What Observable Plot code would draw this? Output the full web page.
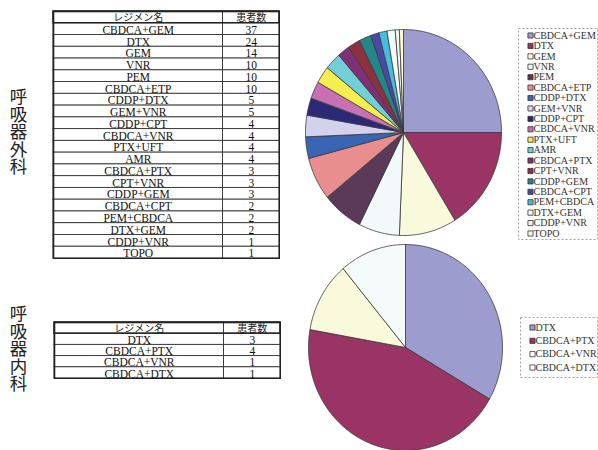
<!DOCTYPE html>
<html><head><meta charset="utf-8">
<script src="https://cdn.jsdelivr.net/npm/d3@7"></script>
<script src="https://cdn.jsdelivr.net/npm/@observablehq/plot@0.6"></script>
<style>
body{margin:0;background:#fff;}
#root{position:relative;width:598px;height:450px;overflow:hidden;background:#fff;}
#root > div{position:absolute;}
.vlabel{writing-mode:vertical-rl;font-family:"Noto Sans CJK JP";font-size:17.5px;line-height:18px;color:#222;}
</style></head><body><div id="root"></div>
<script>
// ---- data ----
const headers = ["レジメン名", "患者数"];
const sectionLabels = ["呼吸器外科", "呼吸器内科"];

const surgRegimens = ["CBDCA+GEM","DTX","GEM","VNR","PEM","CBDCA+ETP","CDDP+DTX","GEM+VNR","CDDP+CPT","CBDCA+VNR","PTX+UFT","AMR","CBDCA+PTX","CPT+VNR","CDDP+GEM","CBDCA+CPT","PEM+CBDCA","DTX+GEM","CDDP+VNR","TOPO"];
const surgCounts = [37,24,14,10,10,10,5,5,4,4,4,4,3,3,3,2,2,2,1,1];
const surgColors = ["#9c9cce","#993464","#f9f9dc","#f1f9fa","#5a3a58","#e88e8e","#3a64b4","#d2d2ec","#2c2a76","#c870b4","#f6ee4e","#72cfd6","#7e3078","#8e3040","#248686","#4a4aa6","#44bede","#f4fafa","#f0f9f0","#fafad2"];

const medRegimens = ["DTX","CBDCA+PTX","CBDCA+VNR","CBDCA+DTX"];
const medCounts = [3,4,1,1];
const medColors = ["#9c9cce","#993464","#f9f9dc","#f5fafa"];
const medLegendColors = ["#9c9cce","#993464","#ffffff","#ffffff"];

// ---- helpers ----
const root = document.getElementById("root");
function place(node, left, top) {
  const div = document.createElement("div");
  div.style.left = left + "px";
  div.style.top = top + "px";
  div.appendChild(node);
  root.appendChild(div);
}

function table(names, counts, left, top, width, height) {
  const rows = [{i: 0, name: headers[0], count: headers[1]}]
    .concat(names.map((n, k) => ({i: k + 1, name: n, count: String(counts[k])})));
  const split = 0.75;
  const body = rows.slice(1), head = rows.slice(0, 1);
  const txt = {fontFamily: "Liberation Serif, DejaVu Serif, serif", fontSize: 11.5, fill: "#111", dy: 1};
  const jp = {fontFamily: "Noto Sans CJK JP", fontSize: 10, fill: "#222", dy: 0.5};
  const cellStyle = {fill: "white", stroke: "#333", strokeWidth: 0.9};
  const p = Plot.plot({
    width, height, margin: 1,
    x: {domain: [0, 1], axis: null},
    y: {type: "band", domain: rows.map(d => d.i), padding: 0, round: false, axis: null},
    marks: [
      Plot.barX(rows, {x1: 0, x2: split, y: "i", ...cellStyle}),
      Plot.barX(rows, {x1: split, x2: 1, y: "i", ...cellStyle}),
      Plot.barX(head, {x1: 0, x2: 1, y: "i", fill: "none", stroke: "#222", strokeWidth: 1.4}),
      Plot.text(body, {x: split / 2, y: "i", text: "name", ...txt}),
      Plot.text(body, {x: (1 + split) / 2, y: "i", text: "count", ...txt}),
      Plot.text(head, {x: split / 2, y: "i", text: "name", ...jp}),
      Plot.text(head, {x: (1 + split) / 2, y: "i", text: "count", ...jp}),
      Plot.frame({stroke: "#222", strokeWidth: 1.6})
    ]
  });
  place(p, left, top);
}

function pie(names, counts, colors, cx, cy, rx, ry) {
  const arcs = d3.pie().sort(null).value(d => d)(counts);
  const pts = [];
  arcs.forEach((a, k) => {
    const key = k;
    pts.push({key, x: 0, y: 0, c: colors[k]});
    const n = Math.max(2, Math.ceil((a.endAngle - a.startAngle) / (Math.PI / 180)));
    for (let j = 0; j <= n; j++) {
      const t = a.startAngle + (a.endAngle - a.startAngle) * j / n;
      pts.push({key, x: Math.sin(t), y: Math.cos(t), c: colors[k]});
    }
    pts.push({key, x: 0, y: 0, c: colors[k]});
  });
  const m = 2;
  const p = Plot.plot({
    width: 2 * rx + 2 * m, height: 2 * ry + 2 * m, margin: m,
    x: {domain: [-1, 1], axis: null},
    y: {domain: [-1, 1], axis: null},
    color: {type: "identity"},
    marks: [
      Plot.line(pts, {x: "x", y: "y", z: "key", fill: "c", stroke: "#3a3a3a", strokeWidth: 0.8, strokeLinejoin: "miter"})
    ]
  });
  place(p, cx - rx - m, cy - ry - m);
}

function legend(names, colors, left, top, width, height, insetTop, insetBottom) {
  const items = names.map((n, k) => ({n, c: colors[k]}));
  const p = Plot.plot({
    width, height, margin: 1,
    x: {domain: [0, width - 2], axis: null},
    y: {type: "point", domain: names, padding: 0, round: false, insetTop, insetBottom, axis: null},
    color: {type: "identity"},
    marks: [
      Plot.frame({stroke: "#888", strokeWidth: 0.8, strokeDasharray: "2,2"}),
      Plot.dot(items, {x: () => 12, y: "n", symbol: "square", r: 2.9, fill: "c", stroke: "#333", strokeWidth: 0.8}),
      Plot.text(items, {x: () => 15, y: "n", text: "n", textAnchor: "start", fontFamily: "Liberation Serif, DejaVu Serif, serif", fontSize: 10, fill: "#333"})
    ]
  });
  place(p, left, top);
}

function vlabel(text, left, top) {
  const d = document.createElement("div");
  d.className = "vlabel";
  d.textContent = text;
  place(d, left, top);
}

// ---- draw ----
vlabel(sectionLabels[0], 9, 88);
vlabel(sectionLabels[1], 9, 305);
table(surgRegimens, surgCounts, 52, 10, 228, 249);
table(medRegimens, medCounts, 53, 321, 228, 58);
pie(surgRegimens, surgCounts, surgColors, 403, 132, 98, 103);
pie(medRegimens, medCounts, medColors, 405, 347, 97, 103);
legend(surgRegimens, surgColors, 517, 27, 81, 213, 7, 6);
legend(medRegimens, medLegendColors, 519, 316, 79, 62, 10, 10);
</script></body></html>
